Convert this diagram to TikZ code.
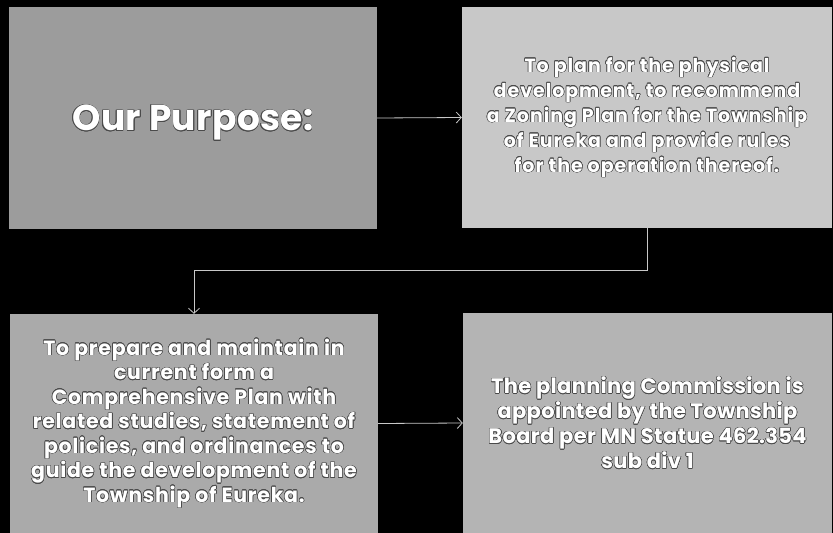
\documentclass[tikz,border=0pt]{standalone}
\usepackage{fontspec}
\setmainfont{Poppins}
\usepackage{contour}
\contourlength{0.55pt}
\contournumber{16}
\usetikzlibrary{arrows.meta}
\definecolor{boxA}{HTML}{9C9C9C}
\definecolor{boxB}{HTML}{C8C8C8}
\definecolor{boxC}{HTML}{AAAAAA}
\definecolor{boxD}{HTML}{B4B4B4}
\definecolor{linkgray}{HTML}{C8C8C8}
\definecolor{edgegray}{HTML}{4A4A4A}
\newcommand\olt[1]{\contour{edgegray}{#1}}
\begin{document}
\begin{tikzpicture}[x=1pt,y=-1pt,
  panel/.style={draw=none, inner sep=0pt, text=white, align=center},
  link/.style={draw=linkgray, line width=0.8pt, -{Straight Barb[length=5pt,width=11pt]}}]
\useasboundingbox (0,0) rectangle (833,533);
\fill[black] (0,0) rectangle (833,533);
\node[panel, fill=boxA, minimum width=368pt, minimum height=222pt,
      font=\fontsize{36}{40}\selectfont\bfseries\addfontfeatures{LetterSpace=1}] (p1) at (193,118)
  {\raisebox{-5pt}[\height][\depth]{\olt{Our Purpose:}}};
\node[panel, fill=boxB, minimum width=370pt, minimum height=221pt,
      font=\fontsize{19}{25}\selectfont\bfseries\addfontfeatures{LetterSpace=5}] (p2) at (647,117.5)
  {\olt{To plan for the physical}\\\olt{development, to recommend}\\\olt{a Zoning Plan for the Township}\\\olt{of Eureka and provide rules}\\\olt{for the operation thereof.}};
\node[panel, fill=boxC, minimum width=368pt, minimum height=219pt,
      font=\fontsize{20.5}{24.5}\selectfont\bfseries\addfontfeatures{LetterSpace=3.5}] (p3) at (194,423.5)
  {\olt{To prepare and maintain in}\\\olt{current form a}\\\olt{Comprehensive Plan with}\\\olt{related studies, statement of}\\\olt{policies, and ordinances to}\\\olt{guide the development of the}\\\olt{Township of Eureka.}};
\node[panel, fill=boxD, minimum width=369pt, minimum height=220pt,
      font=\fontsize{21}{25}\selectfont\bfseries\addfontfeatures{LetterSpace=1.5}] (p4) at (647.5,423)
  {\olt{The planning Commission is}\\\olt{appointed by the Township}\\\olt{Board per MN Statue 462.354}\\\olt{sub div 1}};
\draw[link] (p1.east) -- (p2.west);
\draw[link] (p2.south) -- ++(0,42) -| (p3.north);
\draw[link] (p3.east) -- (p4.west);
\end{tikzpicture}
\end{document}
